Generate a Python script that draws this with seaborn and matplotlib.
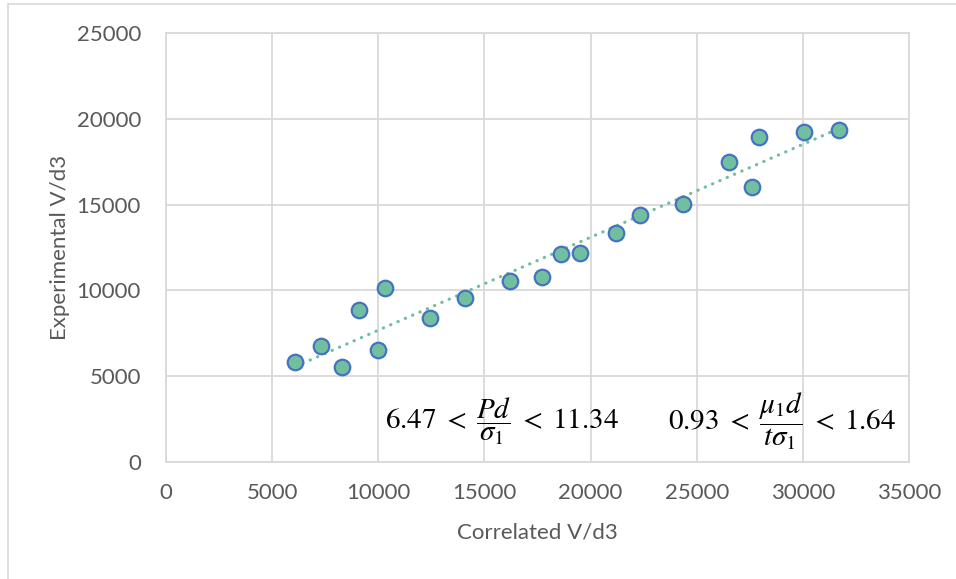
import numpy as np
import pandas as pd
import seaborn as sns
import matplotlib.pyplot as plt
from matplotlib.patches import Rectangle

# valores
correlated = [6100, 7300, 8300, 9100, 10000, 10300, 12450, 14100, 16200, 17700,
              18600, 19500, 21200, 22350, 24350, 26500, 27600, 27950, 30050, 31700]
experimental = [5800, 6750, 5550, 8850, 6550, 10120, 8380, 9540, 10550, 10780,
                12100, 12200, 13350, 14380, 15030, 17480, 16040, 18940, 19240, 19360]

x_ticks = [0, 5000, 10000, 15000, 20000, 25000, 30000, 35000]
y_ticks = [0, 5000, 10000, 15000, 20000, 25000]

df = pd.DataFrame({"Correlated V/d3": correlated, "Experimental V/d3": experimental})

GREEN = "#72BF9F"
BLUE = "#4472C4"
GRID = "#D9D9D9"
TEXT = "#595959"

sns.set_theme(style="whitegrid")
plt.rcParams["font.family"] = ["Lato", "DejaVu Sans"]
plt.rcParams["mathtext.fontset"] = "stix"

fig = plt.figure(figsize=(9.56, 5.79), dpi=100)
ax = fig.add_axes([166 / 956, 117 / 579, 743 / 956, 429 / 579])

# borda externa do gráfico
fig.patches.append(Rectangle((8 / 956, -0.1), 1.2, 1.1 - 4 / 579, transform=fig.transFigure,
                             fill=False, edgecolor=GRID, linewidth=1.2))

sns.regplot(data=df, x="Correlated V/d3", y="Experimental V/d3", ax=ax, scatter=False, ci=None,
            line_kws=dict(color=GREEN, linewidth=2.3, linestyle=(0, (0.1, 2.4)),
                          dash_capstyle="round", zorder=2))
sns.scatterplot(data=df, x="Correlated V/d3", y="Experimental V/d3", ax=ax, s=125,
                color=GREEN, edgecolor=BLUE, linewidth=1.6, zorder=3)

ax.set_xlim(0, 35000)
ax.set_ylim(0, 25000)
ax.set_xticks(x_ticks)
ax.set_yticks(y_ticks)
ax.grid(True, color=GRID, linewidth=1.3)
for s in ax.spines.values():
    s.set_visible(True)
    s.set_color(GRID)
    s.set_linewidth(1.3)
ax.tick_params(axis="x", length=0, pad=15, labelsize=16, labelcolor=TEXT)
ax.tick_params(axis="y", length=0, pad=18, labelsize=16, labelcolor=TEXT)
ax.set_xlabel("Correlated V/d3", fontsize=16, color=TEXT, labelpad=14)
ax.set_ylabel("Experimental V/d3", fontsize=16, color=TEXT, labelpad=5)

ax.text(0.295, 0.095, r"$6.47\;<\;\dfrac{Pd}{\sigma_1}\;<\;11.34$", transform=ax.transAxes,
        fontsize=21, va="center", ha="left", color="black")
ax.text(0.676, 0.095, r"$0.93\;<\;\dfrac{\mu_1 d}{t\sigma_1}\;<\;1.64$", transform=ax.transAxes,
        fontsize=21, va="center", ha="left", color="black")

plt.savefig("out.png", dpi=100)
